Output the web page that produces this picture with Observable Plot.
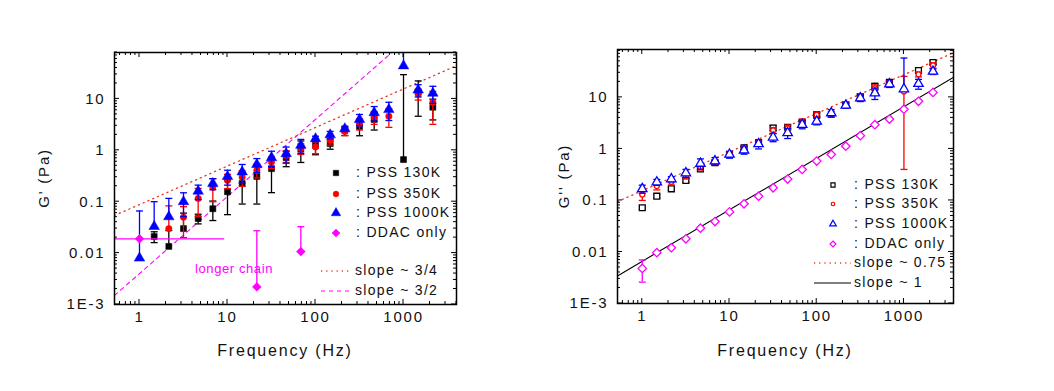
<!DOCTYPE html>
<html><head><meta charset="utf-8">
<script src="https://cdn.jsdelivr.net/npm/d3@7"></script>
<script src="https://cdn.jsdelivr.net/npm/@observablehq/plot@0.6"></script>
<style>
body{margin:0;background:#fff;}
#wrap{display:flex;width:1054px;height:391px;background:#fff;}
#wrap svg text{letter-spacing:1.8px;}
</style></head><body><div id="wrap"></div>
<script>
// ---------- data ----------
const freq = [1, 1.468, 2.154, 3.162, 4.642, 6.813, 10, 14.68, 21.54, 31.62, 46.42, 68.13, 100, 146.8, 215.4, 316.2, 464.2, 681.3, 1000, 1468, 2154];

const xTickVals = [1, 10, 100, 1000];
const xTickLabels = ["1", "10", "100", "1000"];
const yTickVals = [0.001, 0.01, 0.1, 1, 10];
const yTickLabels = ["1E-3", "0.01", "0.1", "1", "10"];

// Left: G'
const gp130    = [null, 0.021, 0.0135, 0.030, 0.047, 0.073, 0.156, 0.226, 0.31, 0.44, 0.72, 1.05, 1.25, 1.35, 2.44, 2.92, 3.98, null, 0.66, 13.5, 6.9];
const gp130err = [null, 0.005, 0.014, 0.03, 0.01, 0.03, 0.1, 0.136, 0.22, 0.29, 0.24, 0.47, 0.43, 0.3, 0.5, 1.0, 1.5, null, 29, 8.9, 3];
const gp350    = [null, null, 0.030, 0.050, 0.116, 0.19, 0.26, 0.30, 0.41, 0.59, 0.78, 1.08, 1.16, 1.56, 2.33, 3.28, 4.4, 4.6, null, 12.5, 8.6];
const gp350err = [null, null, 0.053, 0.03, 0.065, 0.09, 0.08, 0.1, 0.12, 0.15, 0.2, 0.25, 0.3, 0.3, 0.4, 0.8, 1.2, 1.8, null, 3, 5.4];
const gp1000    = [0.008, 0.033, 0.051, 0.10, 0.16, 0.226, 0.31, 0.38, 0.53, 0.72, 0.86, 1.25, 1.68, 2.0, 2.63, 3.98, 5.4, 6.2, 44, 14.9, 12.9];
const gp1000err = [0.058, 0.067, 0.065, 0.049, 0.05, 0.055, 0.1, 0.15, 0.16, 0.24, 0.3, 0.38, 0.2, 0.33, 0.2, 1.0, 1.7, 2.4, 50, 4, 4.7];
const ddacGpF    = [1, 21.54, 68.13];
const ddacGp     = [0.019, 0.0022, 0.0107];
const ddacGpErr  = [0, 0.025, 0.022];
const ddacGpXErr = [8.3, 0, 0];

// Right: G''
const gpp130    = [0.072, 0.121, 0.168, 0.244, 0.41, 0.54, 0.78, 1.05, 1.31, 2.55, 2.63, 3.28, 4.62, null, 7.2, 10.4, 16.3, 19.5, null, 33.3, 47.6];
const gpp130err = [0.005, 0.01, 0.01, 0.02, 0.04, 0.04, 0.05, 0.08, 0.1, 0.3, 0.2, 0.3, 0.4, null, 0.5, 0.8, 2.5, 1.5, null, 3, 4];
const gpp350    = [0.13, 0.19, 0.23, 0.30, 0.45, 0.56, 0.80, 1.02, 1.30, 2.3, 2.5, 3.3, 4.6, 4.7, 7.3, 10.2, 15, 18.5, 13, 28, 42];
const gpp350err = [0.03, 0.03, 0.03, 0.04, 0.06, 0.06, 0.08, 0.1, 0.15, 0.3, 0.4, 0.5, 0.6, 0.6, 0.8, 1.5, 2.5, 2.5, 12.6, 3, 5];
const gpp1000    = [0.168, 0.226, 0.26, 0.34, 0.52, 0.58, 0.78, 0.94, 1.25, 1.68, 2.04, 2.96, 3.43, 4.97, 7.0, 9.7, 12.1, 18.1, 14.5, 18.4, 31.8];
const gpp1000err = [0.03, 0.03, 0.03, 0.06, 0.12, 0.1, 0.12, 0.15, 0.25, 0.3, 0.45, 0.5, 0.5, 0.8, 0.8, 1.4, 3, 2.5, 43.5, 4, 4];
const ddacGpp    = [0.0048, 0.0097, 0.0121, 0.018, 0.029, 0.039, 0.060, 0.086, 0.121, 0.176, 0.26, 0.40, 0.58, 0.78, 1.13, 1.81, 2.96, 3.8, 5.9, 8.4, 12.5];
const ddacGppErr = [0.0022, 0, 0, 0, 0, 0, 0, 0, 0, 0, 0, 0, 0, 0, 0, 0, 0, 0, 0, 0, 0];

// power-law guide lines: prefactor at 1 Hz, exponent
const slopesLeft  = [{label: "slope ~ 3/4", a: 0.088, k: 0.75, color: "#e8381c", dash: "1.2 4", width: 1.3},
                     {label: "slope ~ 3/2", a: 0.004, k: 1.5, color: "#ff00ff", dash: "4 4", width: 1.1}];
const slopesRight = [{label: "slope ~ 0.75", a: 0.155, k: 0.75, color: "#e8381c", dash: "1.2 4", width: 1.3},
                     {label: "slope ~ 1", a: 0.0066, k: 1, color: "#000000", dash: null, width: 1.1}];

const seriesLeft = [
  {label: ": PSS 130K",  color: "#000000", symbol: "square",   r: 3.4, open: false, f: freq, v: gp130, e: gp130err},
  {label: ": PSS 350K",  color: "#ff0000", symbol: "circle",   r: 3.2, open: false, f: freq, v: gp350, e: gp350err},
  {label: ": PSS 1000K", color: "#0000ff", symbol: "triangle", r: 3.9, open: false, f: freq, v: gp1000, e: gp1000err},
  {label: ": DDAC only", color: "#ff00ff", symbol: "diamond2", r: 4.0, open: false, f: ddacGpF, v: ddacGp, e: ddacGpErr, xe: ddacGpXErr}
];
const seriesRight = [
  {label: ": PSS 130K",  color: "#000000", symbol: "square",   r: 3.3, open: true, f: freq, v: gpp130, e: gpp130err},
  {label: ": PSS 350K",  color: "#ff0000", symbol: "circle",   r: 2.5, open: true, f: freq, v: gpp350, e: gpp350err},
  {label: ": PSS 1000K", color: "#0000ff", symbol: "triangle", r: 3.5, open: true, f: freq, v: gpp1000, e: gpp1000err},
  {label: ": DDAC only", color: "#ff00ff", symbol: "diamond2", r: 3.8, open: true, f: freq, v: ddacGpp, e: ddacGppErr}
];

// ---------- drawing ----------
const capSym = {draw(ctx, size) { const w = Math.sqrt(size / Math.PI); ctx.moveTo(-w, 0); ctx.lineTo(w, 0); }};
const d3Sym = {square: d3.symbolSquare, circle: d3.symbolCircle, triangle: d3.symbolTriangle, diamond2: d3.symbolDiamond2};
const FONT = "'Liberation Sans', Arial, sans-serif";

function buildChart(opt) {
  const {width, height, m, xDomain, yDomain, series, slopes, yLabel, yLabelX, legend, note} = opt;
  const marks = [];
  for (const s of slopes) {
    marks.push(Plot.line(xDomain.map(f => ({f, v: s.a * Math.pow(f, s.k)})),
      {x: "f", y: "v", stroke: s.color, strokeWidth: s.width, strokeDasharray: s.dash, clip: true}));
  }
  for (const s of series) {
    const rows = [];
    s.v.forEach((v, i) => { if (v != null) rows.push({f: s.f[i], v, e: s.e[i] || 0, xe: s.xe ? s.xe[i] : 0}); });
    const bars = rows.filter(d => d.e > 0).map(d => ({f: d.f, hi: d.v + d.e, lo: d.v - d.e > 0 ? d.v - d.e : d.v, both: d.v - d.e > 0}));
    const hbars = rows.filter(d => d.xe > 0).map(d => ({v: d.v, x1: d.f - d.xe > xDomain[0] ? d.f - d.xe : xDomain[0], x2: d.f + d.xe}));
    const sw = 1.3;
    marks.push(Plot.ruleX(bars, {x: "f", y1: "lo", y2: "hi", stroke: s.color, strokeWidth: sw, clip: true}));
    marks.push(Plot.dot(bars, {x: "f", y: "hi", symbol: capSym, r: 3.5, stroke: s.color, fill: "none", strokeWidth: sw, clip: true}));
    marks.push(Plot.dot(bars.filter(d => d.both), {x: "f", y: "lo", symbol: capSym, r: 3.5, stroke: s.color, fill: "none", strokeWidth: sw, clip: true}));
    marks.push(Plot.ruleY(hbars, {y: "v", x1: "x1", x2: "x2", stroke: s.color, strokeWidth: sw, clip: true}));
    marks.push(Plot.dot(rows, {x: "f", y: "v", symbol: s.symbol, r: s.r,
      fill: s.open ? "white" : s.color, stroke: s.color, strokeWidth: s.open ? 1.3 : 0.5, clip: true}));
  }
  marks.push(Plot.frame({stroke: "#000", strokeWidth: 1.5}));

  const svg = Plot.plot({
    width, height,
    marginLeft: m.left, marginRight: m.right, marginTop: m.top, marginBottom: m.bottom,
    style: {fontFamily: FONT, fontSize: "15px", background: "white", color: "#111", overflow: "visible"},
    x: {type: "log", domain: xDomain, ticks: xTickVals, tickFormat: d => xTickLabels[xTickVals.indexOf(d)], tickSize: 0, tickPadding: 7, label: null},
    y: {type: "log", domain: yDomain, ticks: yTickVals, tickFormat: d => yTickLabels[yTickVals.indexOf(d)], tickSize: 0, tickPadding: 9, label: null},
    marks
  });

  const sx = svg.scale("x"), sy = svg.scale("y");
  const X0 = m.left, X1 = width - m.right, Y0 = m.top, Y1 = height - m.bottom;
  const root = d3.select(svg);
  const g = root.append("g").attr("stroke", "#000").attr("stroke-width", 1);
  const logTicks = dom => { const out = []; for (let e = -4; e <= 4; e++) for (let k = 1; k < 10; k++) { const v = k * Math.pow(10, e); if (v >= dom[0] && v <= dom[1]) out.push({v, major: k === 1}); } return out; };
  for (const t of logTicks(xDomain)) {
    const x = sx.apply(t.v), L = t.major ? 5 : 3;
    g.append("line").attr("x1", x).attr("x2", x).attr("y1", Y1).attr("y2", Y1 - L);
    g.append("line").attr("x1", x).attr("x2", x).attr("y1", Y0).attr("y2", Y0 + L);
  }
  for (const t of logTicks(yDomain)) {
    const y = sy.apply(t.v), L = t.major ? 5 : 3;
    g.append("line").attr("y1", y).attr("y2", y).attr("x1", X0).attr("x2", X0 + L);
    g.append("line").attr("y1", y).attr("y2", y).attr("x1", X1).attr("x2", X1 - L);
  }

  // axis titles
  root.append("text").attr("x", (X0 + X1) / 2).attr("y", 352).attr("text-anchor", "middle")
    .attr("dominant-baseline", "middle").style("font-size", "16px").style("font-family", FONT).attr("fill", "#111")
    .text("Frequency (Hz)");
  root.append("text").attr("transform", `translate(${yLabelX},${(Y0 + Y1) / 2}) rotate(-90)`).attr("text-anchor", "middle")
    .attr("dominant-baseline", "middle").style("font-size", "15px").style("font-family", FONT).attr("fill", "#111")
    .text(yLabel);

  // legend
  const lg = root.append("g").style("font-family", FONT).style("font-size", "14px").attr("text-anchor", "start");
  series.forEach((s, i) => {
    const y = Y0 + legend.rows[i];
    const lr = s.r * legend.symScale;
    lg.append("path").attr("transform", `translate(${X0 + legend.sym},${y})`)
      .attr("d", d3.symbol(d3Sym[s.symbol], Math.PI * lr * lr)())
      .attr("fill", s.open ? "white" : s.color).attr("stroke", s.color).attr("stroke-width", s.open ? 1.2 : 0.5);
    lg.append("text").attr("x", X0 + legend.text).attr("y", y).attr("dominant-baseline", "middle")
      .attr("text-anchor", "start").style("letter-spacing", "1.3px").attr("fill", "#111").text(s.label);
  });
  slopes.forEach((s, i) => {
    const y = Y0 + legend.slopeRows[i];
    lg.append("line").attr("x1", X0 + legend.line[0]).attr("x2", X0 + legend.line[1]).attr("y1", y).attr("y2", y)
      .attr("stroke", s.color).attr("stroke-width", s.width).attr("stroke-dasharray", s.dash);
    lg.append("text").attr("x", X0 + legend.line[1] + 3).attr("y", y).attr("dominant-baseline", "middle")
      .attr("text-anchor", "start").style("letter-spacing", "1.3px").attr("fill", "#111").text(s.label);
  });
  if (note) {
    root.append("text").attr("x", X0 + note.dx).attr("y", Y0 + note.dy).attr("text-anchor", "middle")
      .attr("dominant-baseline", "middle").style("font-family", FONT).style("font-size", "13px")
      .style("letter-spacing", "0.6px").attr("fill", note.color).text(note.text);
  }
  return svg;
}

const wrap = document.getElementById("wrap");
wrap.appendChild(buildChart({
  width: 527, height: 391, m: {left: 114, right: 71, top: 52, bottom: 87},
  xDomain: [0.52, 4000], yDomain: [0.001, 80],
  series: seriesLeft, slopes: slopesLeft, yLabel: "G' (Pa)", yLabelX: 45,
  legend: {sym: 222, text: 242, symScale: 0.9, rows: [121, 142, 161, 181], slopeRows: [219, 239], line: [207, 238]},
  note: {text: "longer chain", color: "#ff00ff", dx: 120, dy: 218}
}));
wrap.appendChild(buildChart({
  width: 527, height: 391, m: {left: 90, right: 101, top: 49, bottom: 88},
  xDomain: [0.52, 3700], yDomain: [0.001, 85],
  series: seriesRight, slopes: slopesRight, yLabel: "G'' (Pa)", yLabelX: 38,
  legend: {sym: 216, text: 237, symScale: 0.7, rows: [136, 155, 175, 195], slopeRows: [214, 234], line: [197, 234]},
  note: null
}));
</script>
</body></html>
